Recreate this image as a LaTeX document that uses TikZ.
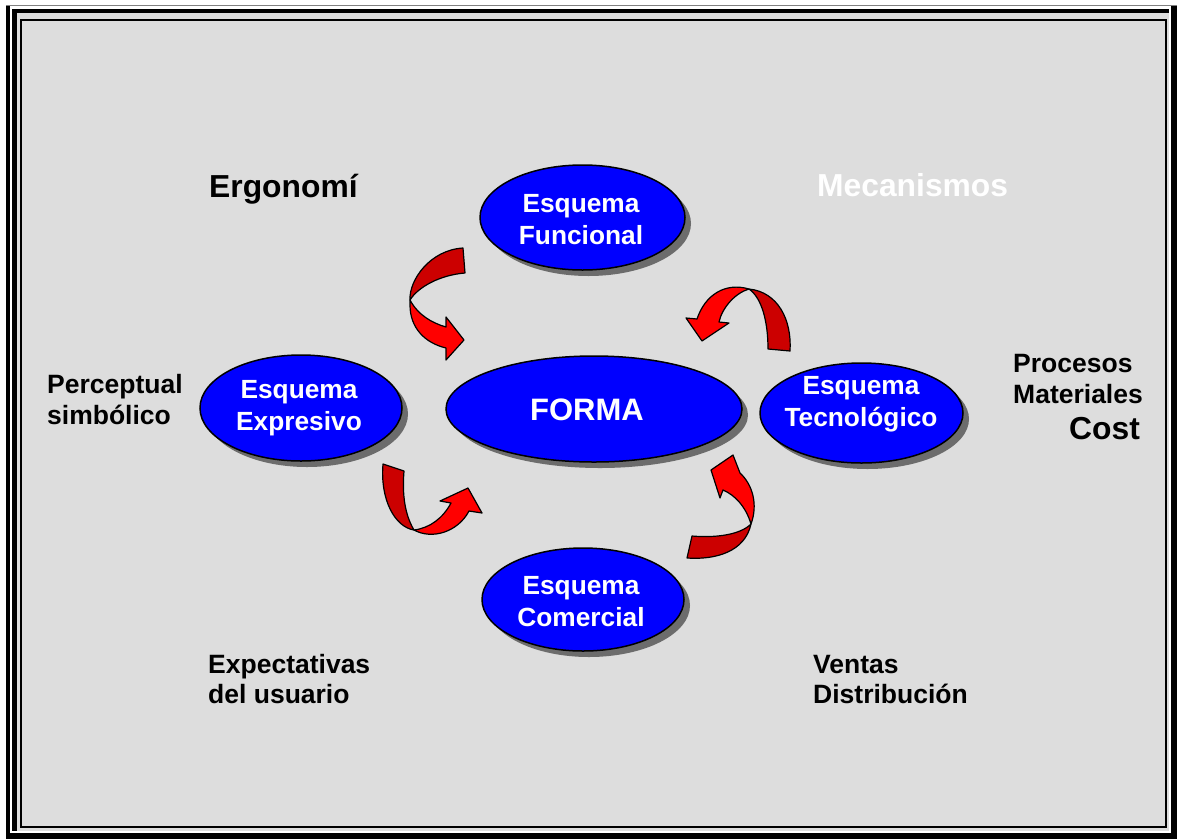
\documentclass[tikz,border=0pt]{standalone}
\usepackage{fontspec}
\setmainfont{Liberation Sans}
\usetikzlibrary{shapes.geometric,shadows}
\definecolor{bgg}{HTML}{DDDDDD}
\definecolor{dkr}{RGB}{204,0,0}
\definecolor{ltr}{RGB}{255,0,0}
\definecolor{bl}{RGB}{0,0,255}
\begin{document}
\begin{tikzpicture}[x=1pt,y=-1pt,
  ell/.style={ellipse,draw=black,line width=1.5pt,fill=bl,inner sep=0pt,
    drop shadow={shadow xshift=6pt,shadow yshift=-6pt,opacity=1,fill=gray!85!black}},
  intext/.style={text=white,font=\fontsize{26.3}{32}\selectfont\bfseries,align=center,inner sep=0pt},
  lab/.style={text=black,font=\fontsize{26.5}{32}\selectfont\bfseries,anchor=base west,inner sep=0pt},
  big/.style={font=\fontsize{31.8}{36}\selectfont\bfseries,anchor=base west,inner sep=0pt},
  dk/.style={fill=dkr,draw=black,line width=1.2pt,line join=round},
  lt/.style={fill=ltr,draw=black,line width=1.2pt,line join=round}]
\useasboundingbox (0,0) rectangle (1177,839);
% frame
\fill[white] (0,0) rectangle (1177,839);
\fill[black] (6,4.5) rectangle (1177,839);
\fill[gray] (6,4.5) rectangle (1177,6);
\fill[white] (10,6) rectangle (1171,833);
\fill[black] (12,9) rectangle (1169,831);
\fill[bgg] (16.5,12.5) rectangle (1169,831);
\draw[line width=2pt,fill=bgg] (21,20) rectangle (1165.5,827);
% ellipses
\node[ell,minimum width=205pt,minimum height=105pt] (fun) at (582.5,217.5) {};
\node[ell,minimum width=202pt,minimum height=106pt] (exp) at (301,408) {};
\node[ell,minimum width=296pt,minimum height=106pt] (forma) at (594,409) {};
\node[ell,minimum width=203pt,minimum height=100pt] (tec) at (861.5,413) {};
\node[ell,minimum width=202pt,minimum height=103pt] (com) at (583,599.5) {};
\node[intext] (tfun) at (581,220) {Esquema\\Funcional};
\node[intext] (texp) at (299,408) {Esquema\\Expresivo};
\node[intext,font=\fontsize{31}{36}\selectfont\bfseries] (tforma) at (587,410) {FORMA};
\node[intext] (ttec) at (861,404) {Esquema\\Tecnológico};
\node[intext] (tcom) at (581,602) {Esquema\\Comercial};
% arrows
\path[dk] (463,248) -- (465,273) .. controls (440,275) and (418,287) .. (410,300) .. controls (409,280) and (430,250) .. (463,248) -- cycle;
\path[lt] (410,300) .. controls (418,315) and (432,323) .. (446,327) -- (446,317) -- (464,340) -- (446,360) -- (446,348) .. controls (425,343) and (410,328) .. (410,305) -- cycle;
\path[dk] (768,349) -- (790,351) .. controls (792,320) and (778,292) .. (749,289) .. controls (762,298) and (768,322) .. (768,349) -- cycle;
\path[lt] (749,289) .. controls (725,282) and (705,295) .. (697,319) -- (686,318) -- (702,341) -- (729,323) -- (719,322) .. controls (722,308) and (735,293) .. (749,289) -- cycle;
\path[dk] (383,464) -- (404,471) .. controls (402,495) and (405,515) .. (414,530) .. controls (395,527) and (380,500) .. (383,464) -- cycle;
\path[lt] (414,530) .. controls (432,540) and (458,532) .. (469,511) -- (482,513) -- (468,488) -- (440,501) -- (451,503) .. controls (443,518) and (430,528) .. (414,530) -- cycle;
\path[dk] (692,536) -- (687,558) .. controls (715,560) and (745,552) .. (751,524) .. controls (740,535) and (715,538) .. (692,536) -- cycle;
\path[lt] (751,524) .. controls (758,505) and (753,485) .. (740,473) -- (733,455) -- (711,470) -- (720,498) -- (723,490) .. controls (735,495) and (746,507) .. (751,524) -- cycle;
% labels
\node[big] (erg) at (209,197) {Ergonomí};
\node[big,text=white] (mec) at (817,196) {Mecanismos};
\node[lab] (per1) at (47,393) {Perceptual};
\node[lab] (per2) at (47,424) {simbólico};
\node[lab] (pro1) at (1013,372) {Procesos};
\node[lab] (pro2) at (1013,403) {Materiales};
\node[big] (pro3) at (1069,439) {Cost};
\node[lab] (ex1) at (208,673) {Expectativas};
\node[lab] (ex2) at (208,703) {del usuario};
\node[lab] (ve1) at (813,673) {Ventas};
\node[lab] (ve2) at (813,703) {Distribución};
\end{tikzpicture}
\end{document}
